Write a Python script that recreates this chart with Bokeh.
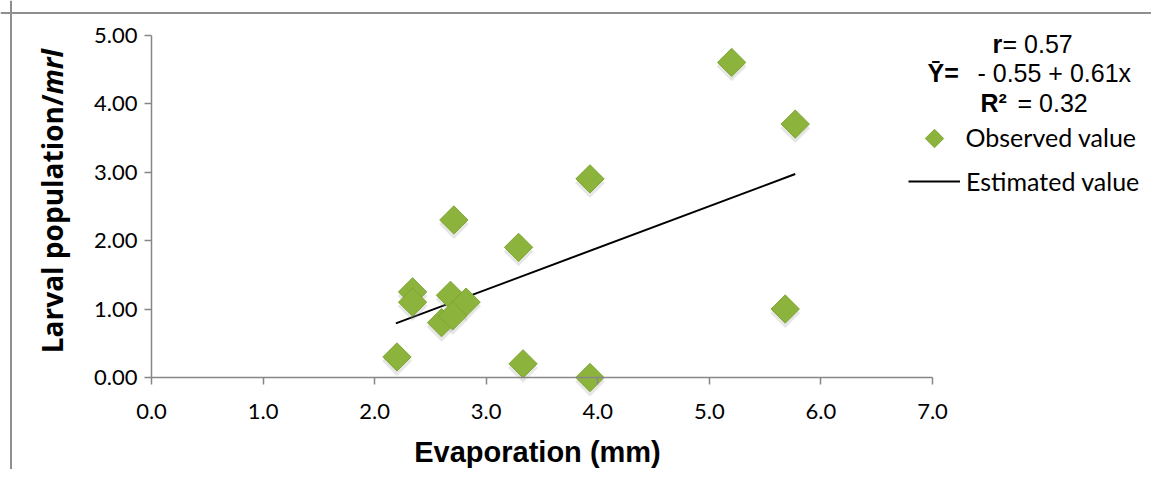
import numpy as np
from bokeh.plotting import figure
from bokeh.models import Label, Legend, LegendItem, Range1d, FixedTicker, NumeralTickFormatter, Span
from bokeh.transform import dodge
from bokeh.embed import file_html
from bokeh.resources import INLINE

# ---- data ----
evaporation = [2.20, 2.34, 2.34, 2.71, 2.68, 2.82, 2.60, 2.70, 3.29, 3.33, 3.93, 3.93, 5.20, 5.77, 5.68]
larval = [0.30, 1.25, 1.10, 2.30, 1.20, 1.10, 0.80, 0.90, 1.90, 0.20, 2.90, 0.00, 4.60, 3.70, 1.00]
est_x = [2.19, 5.77]
est_y = [0.79, 2.97]
x_ticks = [0, 1, 2, 3, 4, 5, 6, 7]
y_ticks = [0, 1, 2, 3, 4, 5]

# ---- layout (picture pixels) ----
OX, OY = 0, 0          # canvas origin in the picture
W, H = 1151, 469       # canvas size
AX_L, AX_R = 151, 932  # picture x of x=0 and x=7
AX_B, AX_T = 377, 34.5 # picture y of y=0 and y=5
xs = (AX_R - AX_L) / 7.0
ys = (AX_B - AX_T) / 5.0
BASE_SHIFT = 0.4       # label anchor correction (fraction of font size)

def sx(px):
    return px - OX

def sy(py):
    return OY + H - py

def dx(px):
    return (px - AX_L) / xs

def dy(py):
    return (AX_B - py) / ys

x_range = Range1d(dx(OX), dx(OX + W))
y_range = Range1d(dy(OY + H), dy(OY))

p = figure(width=W, height=H, output_backend="svg", toolbar_location=None,
           x_range=x_range, y_range=y_range,
           min_border_left=0, min_border_right=0, min_border_top=0, min_border_bottom=0)
p.outline_line_color = None
p.grid.visible = False
p.background_fill_color = "white"
p.border_fill_color = "white"

axcol = "#868686"
for ax in (p.xaxis[0], p.yaxis[0]):
    ax.fixed_location = 0
    ax.axis_line_color = axcol
    ax.axis_line_width = 1.5
    ax.major_tick_line_color = axcol
    ax.major_tick_line_width = 1.5
    ax.major_tick_out = 7
    ax.major_tick_in = 0
    ax.minor_tick_line_color = None
    ax.major_label_text_font = "Lato"
    ax.major_label_text_font_size = "22px"
    ax.major_label_text_color = "black"

p.xaxis.bounds = (0, 7)
p.yaxis.bounds = (0, 5)
p.xaxis.ticker = FixedTicker(ticks=x_ticks)
p.yaxis.ticker = FixedTicker(ticks=y_ticks)
p.xaxis.formatter = NumeralTickFormatter(format="0.0")
p.yaxis.formatter = NumeralTickFormatter(format="0.00")
p.xaxis.major_label_standoff = 19
p.yaxis.major_label_standoff = 7

# outer chart border (top and left)
p.add_layout(Span(location=dy(12.5), dimension="width", line_color="#8f8f8f", line_width=2))
p.add_layout(Span(location=dx(10.5), dimension="height", line_color="#8f8f8f", line_width=2))

green = "#8cb43c"
green_edge = "#7ea535"
ln = p.line(est_x, est_y, line_color="black", line_width=2)
shadow_src = dict(x=evaporation, y=larval)
p.scatter(x="x", y=dodge("y", -0.06), source=shadow_src, marker="square", size=21,
          angle=np.pi / 4, fill_color="#9a9a9a", fill_alpha=0.25, line_color=None)
sc = p.scatter(evaporation, larval, marker="square", size=20, angle=np.pi / 4,
               fill_color=green, line_color=green_edge, line_width=1)


def text_at(txt, px, py, size, font="Liberation Sans", style="normal", align="left", angle=0.0):
    fs = float(size)
    if angle:
        ax_, ay_ = px - BASE_SHIFT * fs, py
    else:
        ax_, ay_ = px, py - BASE_SHIFT * fs
    p.add_layout(Label(x=sx(ax_), y=sy(ay_), x_units="screen", y_units="screen", text=txt,
                       angle=angle, text_align=align, text_baseline="alphabetic",
                       text_font=font, text_font_style=style, text_font_size=f"{size}px",
                       text_color="black"))


# axis titles
text_at("Larval population/", 63, 94, 28, font="Open Sans", style="bold", align="right", angle=np.pi / 2)
text_at("mrl", 63, 94, 28, font="Open Sans", style="bold italic", align="left", angle=np.pi / 2)
text_at("Evaporation (mm)", 537, 463, 29, style="bold", align="center")

# statistics text
stat_parts = [
    ("r", "bold", 992, 53), ("= 0.57", "normal", 1002, 53),
    ("\u0232=", "bold", 927, 82), ("- 0.55 + 0.61x", "normal", 977, 82),
    ("R\u00b2", "bold", 980, 112), ("= 0.32", "normal", 1017, 112),
]
for txt, style, px, py in stat_parts:
    text_at(txt, px, py, 25, style=style)

# legend: observed value key (diamond placed from layout pixels) + label
p.scatter([dx(934)], [dy(138)], marker="square", size=13, angle=np.pi / 4,
          fill_color=green, line_color=green_edge, line_width=1)
text_at("Observed value", 965, 146, 25, font="Lato")

# legend: estimated value
leg2 = Legend(items=[LegendItem(label="Estimated value", renderers=[ln])],
              location=(sx(908), sy(197)), glyph_width=52, glyph_height=32, label_height=32,
              label_standoff=6, padding=0, margin=0, spacing=0,
              border_line_color=None, background_fill_alpha=0,
              label_text_font="Lato", label_text_font_size="25px", label_text_color="black")
p.add_layout(leg2)

open("out.html", "w").write(file_html(p, INLINE))
